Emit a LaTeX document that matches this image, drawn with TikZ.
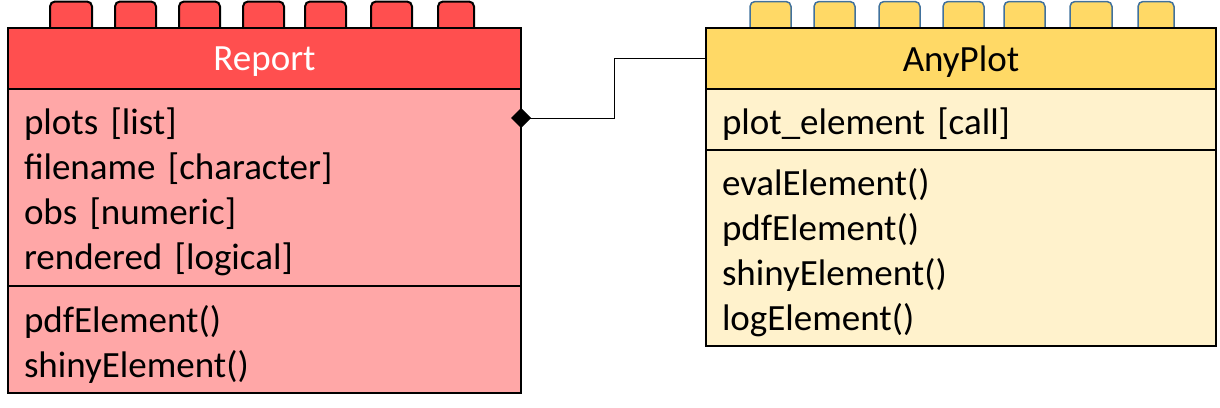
\documentclass[tikz,border=0pt]{standalone}
\usepackage{fontspec}
\setmainfont{Carlito}
\usepackage{tikz}
\usetikzlibrary{arrows.meta, positioning}
\definecolor{repRed}{HTML}{FF4F4F}
\definecolor{repPink}{HTML}{FFA7A7}
\definecolor{plotGold}{HTML}{FFD966}
\definecolor{plotCream}{HTML}{FFF2CC}
\definecolor{tabBlue}{HTML}{41719C}

\begin{document}
\begin{tikzpicture}[x=1pt, y=-1pt, font=\fontsize{37}{45}\selectfont,
    hdr/.style={draw, line width=2.5pt, minimum height=61pt, inner sep=0pt, outer sep=0pt, text depth=0pt},
    body/.style={draw, line width=2.5pt, align=left, inner xsep=16pt, inner ysep=0pt, outer sep=0pt,
      execute at begin node={\rule{0pt}{36pt}}}]
  \useasboundingbox (0,0) rectangle (1220,407);
  % studs on top of the boxes
  \foreach \a/\b in {50/92, 115/156, 179/220, 243/284, 305/346, 371/412, 438/474}{
    \draw[fill=repRed, line width=2pt, rounded corners=5pt] (\a,28) -- (\a,1.5) -- (\b,1.5) -- (\b,28);}
  \foreach \a/\b in {750/791, 814/855, 879/920, 943/984, 1004/1045, 1070/1112, 1138/1174}{
    \draw[fill=plotGold, draw=tabBlue, line width=1.5pt, rounded corners=5pt] (\a,28) -- (\a,1.5) -- (\b,1.5) -- (\b,28);}
  % Report class
  \node[hdr, fill=repRed, text=white, minimum width=513pt] (report) at (264.5,58.5) {Report};
  \node[body, fill=repPink, text width=481pt, minimum height=197pt, below=0pt of report] (reportattr)
    {plots [list]\\filename [character]\\obs [numeric]\\rendered [logical]};
  \node[body, fill=repPink, text width=481pt, minimum height=107pt, below=0pt of reportattr] (reportmeth)
    {pdfElement()\\shinyElement()};
  % AnyPlot class
  \node[hdr, fill=plotGold, minimum width=510pt] (anyplot) at (961,58.5) {AnyPlot};
  \node[body, fill=plotCream, text width=478pt, minimum height=61pt, below=0pt of anyplot] (anyplotattr)
    {plot\_element [call]};
  \node[body, fill=plotCream, text width=478pt, minimum height=196pt, below=0pt of anyplotattr] (anyplotmeth)
    {evalElement()\\pdfElement()\\shinyElement()\\logElement()};
  % composition link
  \coordinate (own) at (511,118);
  \draw[{Diamond[length=20pt, width=20pt]}-, line width=1pt] (own) -- (614,118) |- (anyplot.west);
\end{tikzpicture}
\end{document}
